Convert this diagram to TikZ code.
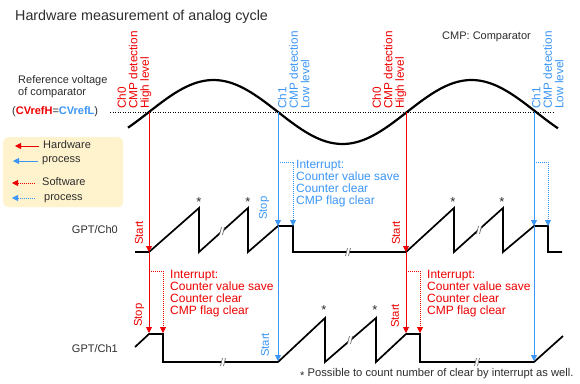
\documentclass[tikz,border=0pt]{standalone}
\usepackage{fontspec}
\setmainfont{Liberation Sans}
\usetikzlibrary{arrows.meta}
\definecolor{hwred}{RGB}{238,0,0}
\definecolor{swblue}{RGB}{60,150,245}
\definecolor{txt}{RGB}{45,45,45}
\definecolor{legfill}{RGB}{255,243,205}
\definecolor{brkgray}{RGB}{100,100,100}
\begin{document}
\begin{tikzpicture}[x=1pt,y=-1pt,
  tip/.style={-{Triangle[length=6pt,width=6pt]}},
  wave/.style={line width=1.7pt, black, line join=miter},
  vline/.style={line width=0.9pt},
  swline/.style={line width=0.8pt, dash pattern=on 1pt off 1pt},
  txtf/.style={inner sep=0pt, text=txt, font=\fontsize{11}{12}\selectfont},
  rotl/.style={inner sep=0pt, rotate=90, anchor=north west, align=left, font=\fontsize{11.8}{11.5}\selectfont},
  ss/.style={inner sep=0pt, rotate=90, anchor=west, font=\fontsize{11.3}{12}\selectfont},
  intr/.style={inner sep=0pt, anchor=north west, align=left, font=\fontsize{12}{12}\selectfont},
  ast/.style={inner sep=0pt, anchor=north, text=txt, font=\fontsize{13}{13}\selectfont},
  brk/.pic={\fill[white] (-2.5,4) -- (-0.5,-4) -- (2.5,-4) -- (0.5,4) -- cycle;
            \draw[brkgray, line width=0.7pt] (-2.5,4) .. controls (-2.2,0) .. (-0.5,-4);
            \draw[brkgray, line width=0.7pt] (0.5,4) .. controls (0.8,0) .. (2.5,-4);}
]
\useasboundingbox[fill=white] (0,0) rectangle (580,383);

% title and notes
\node[txtf, anchor=west, font=\fontsize{14.3}{14}\selectfont] (title) at (15,17) {Hardware measurement of analog cycle};
\node[txtf, anchor=west] (cmpnote) at (442,37) {CMP: Comparator};
\node[txtf, anchor=north west, align=left] (refv) at (18,75) {Reference voltage\\of comparator};
\node[txtf, anchor=west] (cvref) at (12,112) {(\textcolor{hwred}{\bfseries CVrefH}=\textcolor{swblue}{\bfseries CVrefL})};

% legend
\node[draw=none, fill=legfill, rounded corners=5pt, minimum width=120pt, minimum height=70pt, anchor=north west, inner sep=0pt] (legend) at (3,137) {};
\coordinate (lA1) at (39,146); \coordinate (lA2) at (15,146);
\coordinate (lB1) at (38,161); \coordinate (lB2) at (13,161);
\coordinate (lC1) at (35,183); \coordinate (lC2) at (12,183);
\coordinate (lD1) at (35,198); \coordinate (lD2) at (12,198);
\draw[hwred, vline, tip] (lA1) -- (lA2);
\draw[swblue, vline, tip] (lB1) -- (lB2);
\draw[hwred, swline, tip] (lC1) -- (lC2);
\draw[swblue, swline, tip] (lD1) -- (lD2);
\node[txtf, anchor=west] (lt1) at (43,145) {Hardware};
\node[txtf, anchor=west] (lt2) at (42,161) {process};
\node[txtf, anchor=west] (lt3) at (42,182) {Software};
\node[txtf, anchor=west] (lt4) at (44,199) {process};

% reference line and sine
\coordinate (refL) at (110,112); \coordinate (refR) at (555,112);
\draw[black, line width=0.6pt, dash pattern=on 1pt off 1.5pt] (refL) -- (refR);
\draw[black, line width=2.2pt] plot[domain=128:558, samples=120] (\x, {112-32*sin((\x-149)*1.39535)});

% rotated detection labels
\node[rotl, text=hwred] (d1) at (117,109) {Ch0\\CMP detection\\High level};
\node[rotl, text=swblue] (d2) at (277.5,109) {Ch1\\CMP detection\\Low level};
\node[rotl, text=hwred] (d3) at (372,109) {Ch0\\CMP detection\\High level};
\node[rotl, text=swblue] (d4) at (531.5,109) {Ch1\\CMP detection\\Low level};

% channel labels
\node[txtf, anchor=east] (ch0) at (118,230) {GPT/Ch0};
\node[txtf, anchor=east] (ch1) at (118,349) {GPT/Ch1};

% waveforms
\draw[wave] (135,252) -- (149,252) -- (199,208) -- (199,252) -- (248,208) -- (248,252) -- (278,226) -- (293,226) -- (293,252) -- (406,252) -- (454,208) -- (454,252) -- (503,208) -- (503,252) -- (534,226) -- (548,226) -- (548,252) -- (562,252);
\draw[wave] (135,347) -- (149,334) -- (163,334) -- (163,362) -- (278,362) -- (325,318) -- (325,362) -- (376,318) -- (376,362) -- (406,334) -- (420,334) -- (420,362) -- (534,362) -- (563,336);

% asterisks
\node[ast] (a1) at (199,197) {*};
\node[ast] (a2) at (248,197) {*};
\node[ast] (a3) at (453,197) {*};
\node[ast] (a4) at (502,197) {*};
\node[ast] (a5) at (324,305) {*};
\node[ast] (a6) at (375,305) {*};

% break marks
\pic at (222,231) {brk};
\pic at (348,252) {brk};
\pic at (479,230) {brk};
\pic at (223,362) {brk};
\pic at (350,340) {brk};
\pic at (477,362) {brk};

% hardware arrows
\coordinate (r1t) at (149,112); \coordinate (r1a) at (149,252); \coordinate (r1b) at (149,333);
\coordinate (b1t) at (278,112); \coordinate (b1a) at (278,226); \coordinate (b1b) at (278,361);
\coordinate (r2t) at (406,112); \coordinate (r2a) at (406,252); \coordinate (r2b) at (406,333);
\coordinate (b2t) at (534,112); \coordinate (b2a) at (534,226); \coordinate (b2b) at (534,361);
\draw[hwred, vline, tip] (r1t) -- (r1a);
\draw[hwred, vline, tip] (r1a) -- (r1b);
\draw[swblue, vline, tip] (b1t) -- (b1a);
\draw[swblue, vline, tip] (b1a) -- (b1b);
\draw[hwred, vline, tip] (r2t) -- (r2a);
\draw[hwred, vline, tip] (r2a) -- (r2b);
\draw[swblue, vline, tip] (b2t) -- (b2a);
\draw[swblue, vline, tip] (b2a) -- (b2b);

% software arrows
\coordinate (sb1) at (278,162); \coordinate (sb1e) at (293,226);
\coordinate (sb2) at (534,162); \coordinate (sb2e) at (548,226);
\coordinate (sr1) at (149,271); \coordinate (sr1e) at (163,333);
\coordinate (sr2) at (406,271); \coordinate (sr2e) at (420,333);
\draw[swblue, swline, tip] (sb1) -| (sb1e);
\draw[swblue, swline, tip] (sb2) -| (sb2e);
\draw[hwred, swline, tip] (sr1) -| (sr1e);
\draw[hwred, swline, tip] (sr2) -| (sr2e);

% start / stop labels
\node[ss, text=hwred] (s1) at (139,245) {Start};
\node[ss, text=swblue] (s2) at (264,220) {Stop};
\node[ss, text=hwred] (s3) at (396,245) {Start};
\node[ss, text=hwred] (s4) at (139,327) {Stop};
\node[ss, text=swblue] (s5) at (265,357) {Start};
\node[ss, text=hwred] (s6) at (395,328) {Start};

% interrupt texts
\node[intr, text=swblue] (i1) at (296,160) {Interrupt:\\Counter value save\\Counter clear\\CMP flag clear};
\node[intr, text=hwred] (i2) at (170,270) {Interrupt:\\Counter value save\\Counter clear\\CMP flag clear};
\node[intr, text=hwred] (i3) at (427,270) {Interrupt:\\Counter value save\\Counter clear\\CMP flag clear};

% footnote
\node[txtf, anchor=west, font=\fontsize{11.2}{12}\selectfont] (foot) at (300,374) {\raisebox{-0.25em}{*} Possible to count number of clear by interrupt as well.};
\end{tikzpicture}
\end{document}
